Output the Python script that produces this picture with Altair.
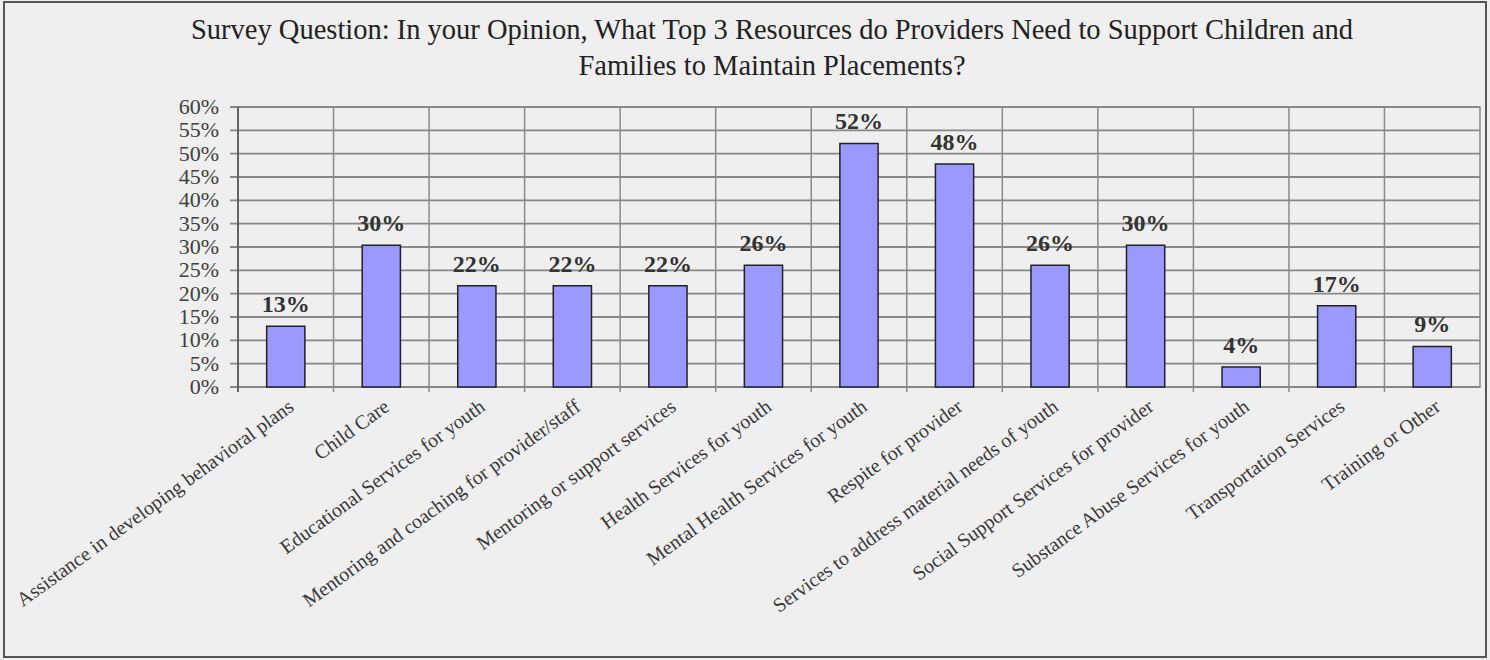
import altair as alt
import pandas as pd

categories = [
    "Assistance in developing behavioral plans",
    "Child Care",
    "Educational Services for youth",
    "Mentoring and coaching for provider/staff",
    "Mentoring or support services",
    "Health Services for youth",
    "Mental Health Services for youth",
    "Respite for provider",
    "Services to address material needs of youth",
    "Social Support Services for provider",
    "Substance Abuse Services for youth",
    "Transportation Services",
    "Training or Other",
]
values = [13.0, 30.4, 21.7, 21.7, 21.7, 26.1, 52.2, 47.8, 26.1, 30.4, 4.3, 17.4, 8.7]
y_ticks = list(range(0, 65, 5))

title_lines = [
    "Survey Question: In your Opinion, What Top 3 Resources do Providers Need to Support Children and",
    "Families to Maintain Placements?",
]

df = pd.DataFrame({"cat": categories, "v": values})
ticks_df = pd.DataFrame({"t": y_ticks})

SERIF = "Liberation Serif"
W, H = 1242, 280

xscale = alt.Scale(domain=categories, paddingInner=0, paddingOuter=0)
yscale = alt.Scale(domain=[0, 60], nice=False)

xaxis = alt.Axis(
    labelAngle=-36,
    labelFont=SERIF,
    labelFontSize=20,
    labelColor="#383838",
    labelPadding=9,
    ticks=False,
    domain=False,
    grid=False,
    labelLimit=500,
    labelOverlap=False,
)

base = alt.Chart(df)
tbase = alt.Chart(ticks_df)

# horizontal gridlines with tick stubs on the left
hgrid = tbase.mark_rule(color="#888888", strokeWidth=1.8).encode(
    y=alt.Y("t:Q", scale=yscale, axis=None),
    x=alt.value(-8),
    x2=alt.value(W),
)

ylabels = tbase.mark_text(
    font=SERIF, fontSize=22, color="#404040", align="right", baseline="middle", dx=-19
).transform_calculate(lab="datum.t + '%'").encode(
    y=alt.Y("t:Q", scale=yscale, axis=None),
    x=alt.value(0),
    text="lab:N",
)

vgrid = base.mark_rule(color="#8a8a8a", strokeWidth=1.5).encode(
    x=alt.X("cat:N", scale=xscale, sort=categories, bandPosition=0, title=None, axis=xaxis),
    y=alt.value(0),
    y2=alt.value(H + 5),
)

left_axis = alt.Chart(pd.DataFrame({"t": [0]})).mark_rule(color="#555555", strokeWidth=1.5).encode(
    x=alt.value(0), y=alt.value(0), y2=alt.value(H + 5)
)

bars = base.mark_bar(
    width=alt.RelativeBandSize(0.4), color="#9999ff", stroke="#222222", strokeWidth=1.5
).encode(
    x=alt.X("cat:N", scale=xscale, sort=categories, title=None, axis=xaxis),
    y=alt.Y("v:Q", scale=yscale, axis=None),
)

labels = base.mark_text(
    font=SERIF, fontSize=24, fontWeight="bold", color="#333333", baseline="bottom", dy=-9
).transform_calculate(lab="format(datum.v, '.0f') + '%'").encode(
    x=alt.X("cat:N", scale=xscale, sort=categories, title=None, axis=xaxis),
    y=alt.Y("v:Q", scale=yscale, axis=None),
    text="lab:N",
)

title = alt.Chart(pd.DataFrame({"t": [0]})).mark_text(
    font=SERIF, fontSize=28.5, color="#222222", align="center", baseline="top", lineHeight=36
).encode(x=alt.value(534), y=alt.value(-91), text=alt.value(title_lines))

border = alt.Chart(pd.DataFrame({"t": [0]})).mark_rect(
    fill=None, stroke="#555555", strokeWidth=2
).encode(x=alt.value(-234), x2=alt.value(W + 6), y=alt.value(-105), y2=alt.value(H + 270))

chart = (
    alt.layer(hgrid, vgrid, left_axis, ylabels, bars, labels, title, border)
    .properties(
        width=W,
        height=H,
        autosize=alt.AutoSizeParams(type="none"),
        padding={"left": 238, "top": 107, "right": 10, "bottom": 273},
        background="#efefef",
    )
    .configure_view(stroke="#888888", strokeWidth=1.5)
)

chart.save("out.html", embed_options={"renderer": "svg", "actions": False})
